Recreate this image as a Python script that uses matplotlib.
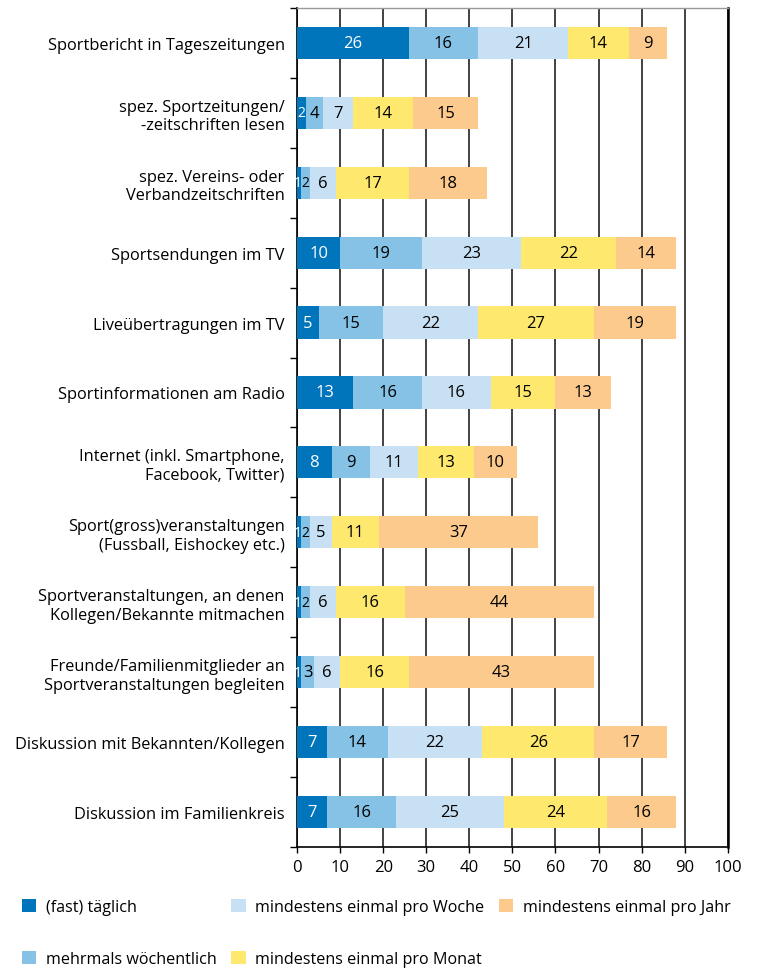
import numpy as np
import matplotlib.pyplot as plt
from matplotlib.patches import Patch

plt.rcParams['font.family'] = ['Open Sans', 'DejaVu Sans']

categories = [
    'Sportbericht in Tageszeitungen',
    'spez. Sportzeitungen/\n-zeitschriften lesen',
    'spez. Vereins- oder\nVerbandzeitschriften',
    'Sportsendungen im TV',
    'Liveübertragungen im TV',
    'Sportinformationen am Radio',
    'Internet (inkl. Smartphone,\nFacebook, Twitter)',
    'Sport(gross)veranstaltungen\n(Fussball, Eishockey etc.)',
    'Sportveranstaltungen, an denen\nKollegen/Bekannte mitmachen',
    'Freunde/Familienmitglieder an\nSportveranstaltungen begleiten',
    'Diskussion mit Bekannten/Kollegen',
    'Diskussion im Familienkreis',
]
taeglich = [26, 2, 1, 10, 5, 13, 8, 1, 1, 1, 7, 7]
mehrmals = [16, 4, 2, 19, 15, 16, 9, 2, 2, 3, 14, 16]
woche = [21, 7, 6, 23, 22, 16, 11, 5, 6, 6, 22, 25]
monat = [14, 14, 17, 22, 27, 15, 13, 11, 16, 16, 26, 24]
jahr = [9, 15, 18, 14, 19, 13, 10, 37, 44, 43, 17, 16]

series = [
    ('(fast) täglich', taeglich, '#0075bc', 'white'),
    ('mehrmals wöchentlich', mehrmals, '#86c2e6', 'black'),
    ('mindestens einmal pro Woche', woche, '#c8e0f4', 'black'),
    ('mindestens einmal pro Monat', monat, '#fee86e', 'black'),
    ('mindestens einmal pro Jahr', jahr, '#fdca8e', 'black'),
]

fig = plt.figure(figsize=(7.58, 9.70), dpi=100)
ax = fig.add_axes([0.392, 0.1258, 0.568, 0.865])

y = np.arange(len(categories))
left = np.zeros(len(categories))
handles = []
for name, vals, col, tcol in series:
    vals = np.array(vals, dtype=float)
    bars = ax.barh(y, vals, left=left, height=0.46, color=col, zorder=3)
    for b, v in zip(bars, vals):
        # tiny segments: slightly smaller numbers so they don't run together
        fs = 12 if v >= 3 else 10
        xc = b.get_x() + b.get_width() / 2
        if v < 1.5:
            xc -= 0.4
        ax.text(xc, b.get_y() + b.get_height() / 2, f'{v:g}',
                ha='center', va='center', color=tcol, fontsize=fs, zorder=4)
    left += vals
    handles.append(Patch(facecolor=col, label=name))

ax.set_xlim(0, 100)
ax.set_ylim(len(categories) - 0.5, -0.5)
ax.set_xticks(np.arange(0, 101, 10))
ax.set_yticks(y)
ax.set_yticklabels(categories, multialignment='right')
ax.set_yticks(np.arange(-0.5, len(categories), 1), minor=True)
ax.tick_params(axis='y', which='major', length=0, pad=9, labelsize=11.8)
ax.tick_params(axis='y', which='minor', length=5, width=1.0)
ax.tick_params(axis='x', length=4, width=1.0, labelsize=12, pad=5)
ax.grid(axis='x', color='#222222', linewidth=1.2, zorder=0)

ax.spines['top'].set_color('#999999')
ax.spines['top'].set_linewidth(1.0)
ax.spines['right'].set_linewidth(1.8)
ax.spines['left'].set_linewidth(1.2)
ax.spines['bottom'].set_linewidth(1.2)

fig.legend(handles=handles, ncol=3, loc='upper left',
           bbox_to_anchor=(0.02, 0.079), frameon=False, fontsize=11.6,
           handlelength=0.9, handleheight=0.9, handletextpad=0.6,
           labelspacing=2.2, columnspacing=0.9, borderaxespad=0)

fig.savefig('out.png', dpi=100)
